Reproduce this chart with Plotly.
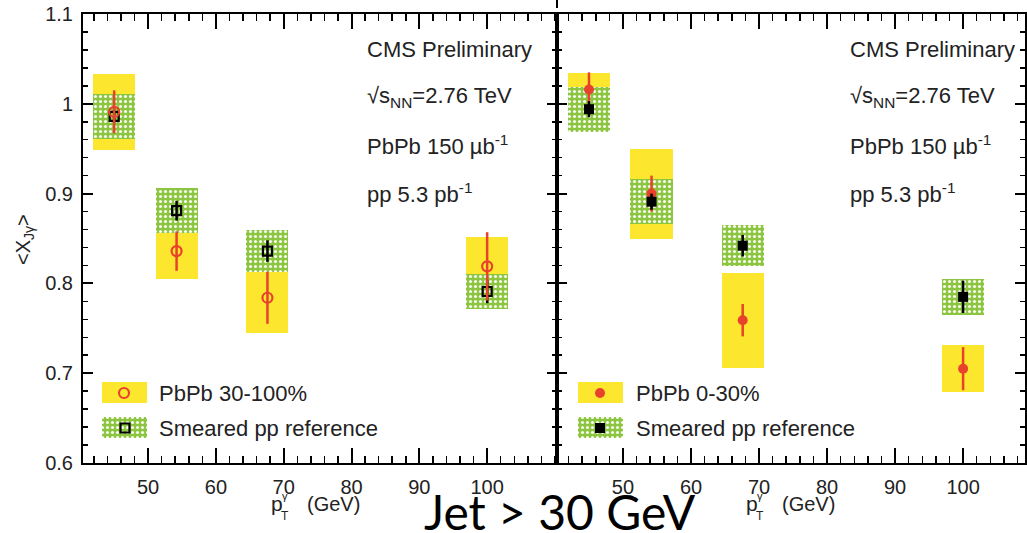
import plotly.graph_objects as go

# ---------------- data ----------------
pt_gamma = [45.0, 54.2, 67.6, 100.0]

# left panel: PbPb 30-100% vs smeared pp
pbpb_periph = [0.991, 0.836, 0.784, 0.819]
pbpb_periph_stat = [0.024, 0.022, 0.029, 0.038]
pbpb_periph_sys = [0.042, 0.031, 0.039, 0.033]
pp_periph = [0.986, 0.881, 0.836, 0.791]
pp_periph_stat = [0.007, 0.011, 0.012, 0.013]
pp_periph_sys = [0.025, 0.025, 0.023, 0.020]

# right panel: PbPb 0-30% vs smeared pp
pbpb_central = [1.016, 0.900, 0.759, 0.705]
pbpb_central_stat = [0.019, 0.020, 0.018, 0.024]
pbpb_central_sys = [0.018, 0.050, 0.053, 0.026]
pp_central = [0.994, 0.891, 0.842, 0.785]
pp_central_stat = [0.009, 0.009, 0.012, 0.018]
pp_central_sys = [0.025, 0.025, 0.023, 0.020]

x_ticks = [50, 60, 70, 80, 90, 100]
y_ticks = [0.6, 0.7, 0.8, 0.9, 1.0, 1.1]
y_tick_text = ["0.6", "0.7", "0.8", "0.9", "1", "1.1"]

info_lines = ["CMS Preliminary", "√s<sub>NN</sub>=2.76 TeV",
              "PbPb 150 µb<sup>-1</sup>", "pp 5.3 pb<sup>-1</sup>"]
legend_left = ["PbPb 30-100%", "Smeared pp reference"]
legend_right = ["PbPb 0-30%", "Smeared pp reference"]

# ---------------- style ----------------
W, H = 1027, 533
YELLOW = "#fde72e"
GREEN = "#8cc53f"
RED = "#e8412c"
BLACK = "#000000"
TXT = "#222222"
FONT = "Liberation Sans, Arial, Helvetica, sans-serif"
BOX_W = 6.2

green_pattern = dict(shape=".", fillmode="replace", bgcolor=GREEN,
                     fgcolor="#f6faee", size=5, solidity=0.3)

fig = go.Figure()


def sys_bars(vals, sys, color, xa, ya, pattern=None):
    marker = dict(color=color, line=dict(width=0))
    if pattern is not None:
        marker["pattern"] = pattern
    fig.add_trace(go.Bar(
        x=pt_gamma, y=[2 * s for s in sys],
        base=[v - s for v, s in zip(vals, sys)],
        width=BOX_W, marker=marker, xaxis=xa, yaxis=ya,
        showlegend=False, hoverinfo="skip"))


def points(vals, stat, symbol, color, size, lw, xa, ya):
    fig.add_trace(go.Scatter(
        x=pt_gamma, y=vals, mode="markers",
        marker=dict(symbol=symbol, color=color, size=size,
                    line=dict(color=color, width=lw)),
        error_y=dict(type="data", array=stat, color=color,
                     thickness=2.5, width=0),
        xaxis=xa, yaxis=ya, showlegend=False, hoverinfo="skip"))


# left panel
sys_bars(pbpb_periph, pbpb_periph_sys, YELLOW, "x", "y")
sys_bars(pp_periph, pp_periph_sys, GREEN, "x", "y", green_pattern)
points(pp_periph, pp_periph_stat, "square-open", BLACK, 9, 2.2, "x", "y")
points(pbpb_periph, pbpb_periph_stat, "circle-open", RED, 10, 2.2, "x", "y")

# right panel
sys_bars(pbpb_central, pbpb_central_sys, YELLOW, "x2", "y2")
sys_bars(pp_central, pp_central_sys, GREEN, "x2", "y2", green_pattern)
points(pbpb_central, pbpb_central_stat, "circle", RED, 10, 0, "x2", "y2")
points(pp_central, pp_central_stat, "square", BLACK, 10, 0, "x2", "y2")

# legend swatches on a pixel overlay
for cx in (124.5, 600.5):
    fig.add_trace(go.Bar(x=[cx], y=[21], base=[382], width=45,
                         marker=dict(color=YELLOW, line=dict(width=0)),
                         xaxis="x3", yaxis="y3", showlegend=False, hoverinfo="skip"))
    fig.add_trace(go.Bar(x=[cx], y=[21], base=[417], width=45,
                         marker=dict(color=GREEN, line=dict(width=0), pattern=green_pattern),
                         xaxis="x3", yaxis="y3", showlegend=False, hoverinfo="skip"))
fig.add_trace(go.Scatter(x=[124], y=[393], mode="markers",
                         marker=dict(symbol="circle-open", size=10, color=RED, line=dict(width=2.2, color=RED)),
                         xaxis="x3", yaxis="y3", showlegend=False, hoverinfo="skip"))
fig.add_trace(go.Scatter(x=[125], y=[428], mode="markers",
                         marker=dict(symbol="square-open", size=9, color=BLACK, line=dict(width=2.2, color=BLACK)),
                         xaxis="x3", yaxis="y3", showlegend=False, hoverinfo="skip"))
fig.add_trace(go.Scatter(x=[600], y=[393], mode="markers",
                         marker=dict(symbol="circle", size=10, color=RED),
                         xaxis="x3", yaxis="y3", showlegend=False, hoverinfo="skip"))
fig.add_trace(go.Scatter(x=[600], y=[428], mode="markers",
                         marker=dict(symbol="square", size=10, color=BLACK),
                         xaxis="x3", yaxis="y3", showlegend=False, hoverinfo="skip"))


def px(xp):
    return xp / W


def py(yp):
    return 1 - yp / H


X0, XM, X1 = 83, 557, 1025
YT, YB = 14, 463

common_x = dict(tickmode="array", tickvals=x_ticks, ticks="inside", ticklen=15,
                tickwidth=2, tickcolor=BLACK, showline=True, linewidth=2,
                linecolor=BLACK, mirror="ticks", showgrid=False, zeroline=False,
                automargin=False,
                tickfont=dict(family=FONT, size=20, color=TXT),
                minor=dict(dtick=2, tick0=0, ticks="inside", ticklen=7,
                           tickwidth=1.5, tickcolor=BLACK, showgrid=False),
                ticklabelstandoff=5, fixedrange=True)
common_y = dict(range=[0.6, 1.1], tickmode="array", tickvals=y_ticks, ticktext=y_tick_text,
                ticks="inside", ticklen=10, tickwidth=2, tickcolor=BLACK,
                showline=True, linewidth=2, linecolor=BLACK, mirror="ticks",
                showgrid=False, zeroline=False, automargin=False,
                tickfont=dict(family=FONT, size=20, color=TXT),
                minor=dict(dtick=0.02, tick0=0, ticks="inside", ticklen=5,
                           tickwidth=1.5, tickcolor=BLACK, showgrid=False),
                ticklabelstandoff=4, fixedrange=True)

fig.update_layout(
    template="none",
    width=W, height=H, margin=dict(l=0, r=0, t=0, b=0, pad=0),
    paper_bgcolor="white", plot_bgcolor="rgba(0,0,0,0)",
    barmode="overlay", bargap=0, showlegend=False,
    xaxis=dict(domain=[px(X0), px(XM)], range=[40.4, 110.3], anchor="y", **common_x),
    yaxis=dict(domain=[py(YB), py(YT)], anchor="x", **common_y),
    xaxis2=dict(domain=[px(XM), px(X1)], range=[40.3, 109.1], anchor="y2", **common_x),
    yaxis2=dict(domain=[py(YB), py(YT)], anchor="x2", showticklabels=False, **common_y),
    xaxis3=dict(domain=[0, 1], range=[0, W], anchor="y3", visible=False,
                fixedrange=True, automargin=False, showgrid=False, zeroline=False),
    yaxis3=dict(domain=[0, 1], range=[H, 0], anchor="x3", visible=False,
                fixedrange=True, automargin=False, showgrid=False, zeroline=False),
)

ann = []


def text(x, y, t, size, xanchor="left", family=FONT, color=TXT, **kw):
    ann.append(dict(x=px(x), y=py(y), xref="paper", yref="paper", text=t,
                    xanchor=xanchor, yanchor="middle", showarrow=False,
                    font=dict(family=family, size=size, color=color), **kw))


info_y = [50, 97, 145, 193]
for xl in (365, 848):
    for t, yy in zip(info_lines, info_y):
        text(xl, yy, t, 22)
for xl, labels in ((157, legend_left), (634, legend_right)):
    for t, yy in zip(labels, (393, 428)):
        text(xl, yy, t, 22)

# x-axis titles: p with stacked gamma (sup) and T (sub)
for g in (333, 808):
    text(g - 64, 503, "p", 21)
    text(g - 48, 496, "γ", 11, xanchor="center")
    text(g - 48, 516, "T", 12, xanchor="center")
    text(g, 504, "(GeV)", 20, xanchor="center")

# y-axis title
text(24, 240, "&lt;X<sub>Jγ</sub>&gt;", 20, xanchor="center", textangle=-90)

# slide caption
ann.append(dict(x=px(560), y=py(542), xref="paper", yref="paper",
                text="Jet > 30 GeV", xanchor="center", yanchor="bottom",
                showarrow=False, font=dict(family="Lato, Open Sans, sans-serif", size=48, color=BLACK)))

fig.update_layout(annotations=ann)

fig.add_shape(type="line", xref="paper", yref="paper",
              x0=px(XM), x1=px(XM), y0=1, y1=py(8),
              line=dict(color=BLACK, width=2))

fig.write_html("out.html", config={"displayModeBar": False, "staticPlot": True},
               post_script="document.body.style.margin='0px';document.body.style.padding='0px';")
